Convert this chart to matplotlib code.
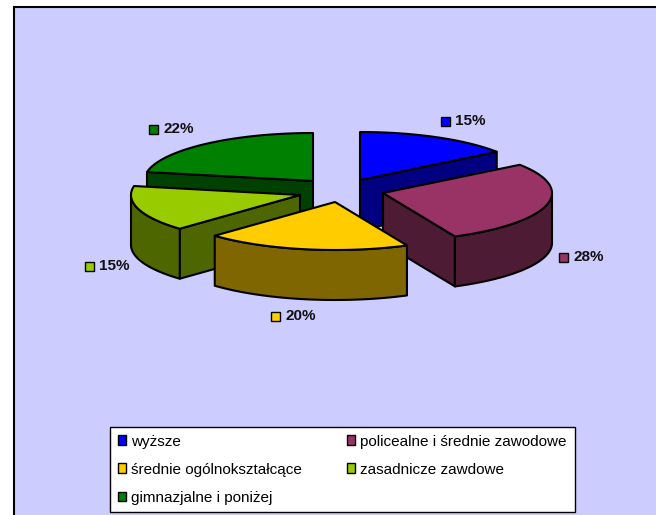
import numpy as np
import matplotlib
matplotlib.use('Agg')
import matplotlib.pyplot as plt
from matplotlib.patches import Polygon, Patch, Rectangle

plt.rcParams['font.family'] = ['Liberation Sans', 'DejaVu Sans']

# data
labels = ['wyższe', 'policealne i średnie zawodowe', 'średnie ogólnokształcące',
          'zasadnicze zawdowe', 'gimnazjalne i poniżej']
values = [15, 28, 19.6, 15.4, 22]  # printed rounded, split

# look
top_colors = ['#0000FF', '#993366', '#FFCC00', '#99CC00', '#008000']
side_colors = ['#000080', '#4D1B33', '#806600', '#4D6600', '#004000']
apex = [(360, 180), (383, 193), (335, 202), (300, 195), (313, 181)]  # exploded slice tips, px
marker_pos = [(445, 121), (563, 257), (275, 316), (89, 266), (153, 129)]
rx, ry, depth = 169, 48, 50

fig = plt.figure(figsize=(6.56, 5.15), dpi=100)
ax = fig.add_axes([0, 0, 1, 1])
ax.set_xlim(0, 656)
ax.set_ylim(515, 0)
ax.axis('off')

# chart background
ax.add_patch(Rectangle((14, 7), 660, 520, fc='#CCCCFF', ec='black', lw=1.5, zorder=0))


def point(c, ang):
    # ang in degrees, clockwise from 12 o'clock
    a = np.radians(ang)
    return np.column_stack([c[0] + rx * np.sin(a), c[1] - ry * np.cos(a)])


def extrude(pts):
    down = pts + [0, depth]
    return np.vstack([pts, down[::-1]])


edges = np.cumsum([0] + values) * 3.6
# back to front so the slices cover each other like in the original
for i in [4, 0, 3, 1, 2]:
    a0, a1 = edges[i], edges[i + 1]
    c = np.array(apex[i], dtype=float)
    kw = dict(ec='black', lw=1.5, joinstyle='round')

    # cut faces, only those turned to the viewer
    if 180 < a0 < 360:
        face = np.vstack([c, point(c, np.array([a0]))])
        ax.add_patch(Polygon(extrude(face), fc=side_colors[i], **kw))
    if 0 < a1 < 180:
        face = np.vstack([c, point(c, np.array([a1]))])
        ax.add_patch(Polygon(extrude(face), fc=side_colors[i], **kw))

    # outer rim, front half of the ellipse
    r0, r1 = max(a0, 90), min(a1, 270)
    if r0 < r1:
        rim = point(c, np.linspace(r0, r1, 60))
        ax.add_patch(Polygon(extrude(rim), fc=side_colors[i], **kw))

    # top
    arc = point(c, np.linspace(a0, a1, 80))
    ax.add_patch(Polygon(np.vstack([c, arc]), fc=top_colors[i], **kw))

    # data label
    mx, my = marker_pos[i]
    ax.add_patch(Rectangle((mx - 4.5, my - 4.5), 9, 9, fc=top_colors[i], ec='black', lw=1))
    ax.text(mx + 10, my, f'{values[i]:.0f}%', fontsize=11, fontweight='bold',
            color='#111111', va='center', ha='left')

# legend, filled by columns
order = [0, 2, 4, 1, 3]
handles = [Patch(fc=top_colors[i], ec='black', lw=1) for i in order]
leg = ax.legend(handles, [labels[i] for i in order], ncol=2, loc='upper left',
                bbox_to_anchor=(110 / 656, 1 - 427 / 515), bbox_transform=ax.transAxes,
                fontsize=11, fancybox=False, framealpha=1, facecolor='white',
                edgecolor='black', borderaxespad=0, borderpad=0.5, labelspacing=0.92,
                handlelength=0.55, handleheight=0.6, handletextpad=0.33, columnspacing=2.95)
leg.get_frame().set_linewidth(1)

plt.savefig('out.png', dpi=100)
